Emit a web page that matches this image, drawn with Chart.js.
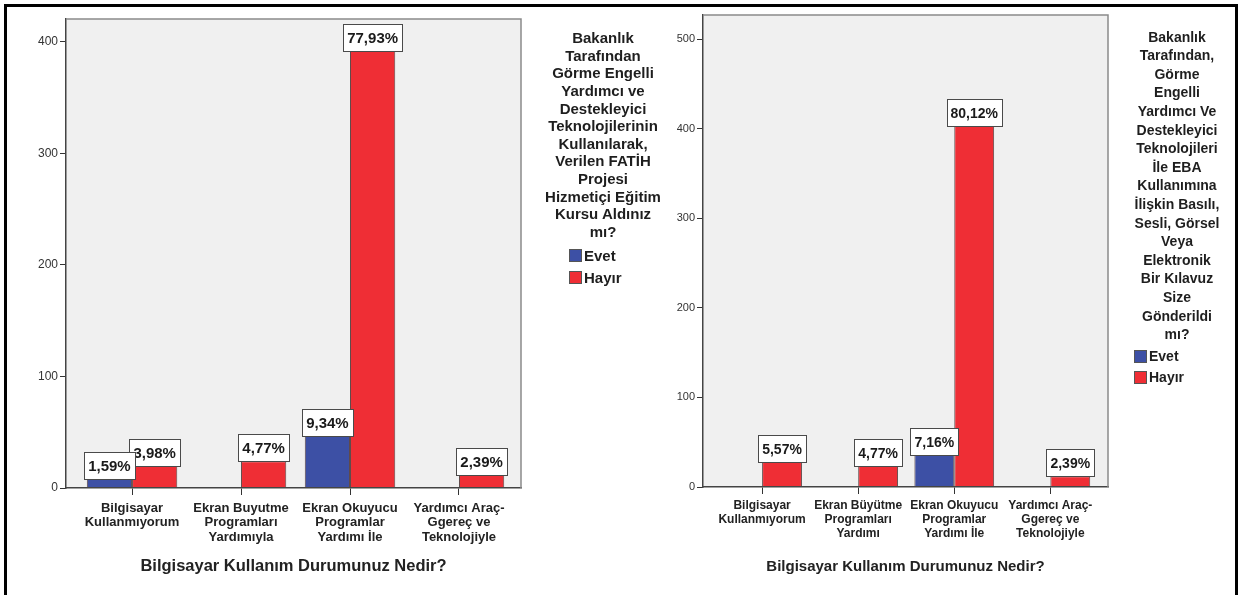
<!DOCTYPE html>
<html>
<head>
<meta charset="utf-8">
<script src="https://cdn.jsdelivr.net/npm/chart.js@4.4.1/dist/chart.umd.min.js"></script>
<style>
  body { margin: 0; background: #fff; }
  #page { position: relative; width: 1243px; height: 595px; overflow: hidden; font-family: "Liberation Sans", Arial, sans-serif; }
  #frame { position: absolute; left: 4px; top: 4px; width: 1234px; height: 610px; border: 3px solid #000; box-sizing: border-box; }
  canvas { position: absolute; top: 0; }
  .ltitle { position: absolute; text-align: center; color: #1e1e1e; font-weight: bold; }
  .litems { position: absolute; color: #1e1e1e; font-weight: bold; }
  .litems div { display: flex; align-items: center; }
  .litems span.sw { display: inline-block; width: 13px; height: 13px; border: 1px solid #555; box-sizing: border-box; margin-right: 2px; }
</style>
</head>
<body>
<div id="page">
  <div id="frame"></div>
  <canvas id="leftChart" width="650" height="595" style="left:0"></canvas>
  <canvas id="rightChart" width="593" height="595" style="left:650px"></canvas>
  <div id="leftLegend"></div>
  <div id="rightLegend"></div>
</div>
<script>
// values (counts, N = 503 per chart)
const seriesNames = ['Evet', 'Hayır'];
const seriesColors = ['#3d50a5', '#ef2e35'];

const leftCategories = [
  ['Bilgisayar', 'Kullanmıyorum'],
  ['Ekran Buyutme', 'Programları', 'Yardımıyla'],
  ['Ekran Okuyucu', 'Programlar', 'Yardımı İle'],
  ['Yardımcı Araç-', 'Ggereç ve', 'Teknolojiyle']
];
const leftEvet = [8, null, 47, null];
const leftHayir = [20, 24, 392, 12];
const leftYTicks = [0, 100, 200, 300, 400];

const rightCategories = [
  ['Bilgisayar', 'Kullanmıyorum'],
  ['Ekran Büyütme', 'Programları', 'Yardımı'],
  ['Ekran Okuyucu', 'Programlar', 'Yardımı İle'],
  ['Yardımcı Araç-', 'Ggereç ve', 'Teknolojiyle']
];
const rightEvet = [null, null, 36, null];
const rightHayir = [28, 24, 403, 12];
const rightYTicks = [0, 100, 200, 300, 400, 500];

const xTitle = 'Bilgisayar Kullanım Durumunuz Nedir?';

const leftLegendTitle = ['Bakanlık', 'Tarafından', 'Görme Engelli', 'Yardımcı ve', 'Destekleyici',
  'Teknolojilerinin', 'Kullanılarak,', 'Verilen FATİH', 'Projesi', 'Hizmetiçi Eğitim', 'Kursu Aldınız', 'mı?'];
const rightLegendTitle = ['Bakanlık', 'Tarafından,', 'Görme', 'Engelli', 'Yardımcı Ve', 'Destekleyici',
  'Teknolojileri', 'İle EBA', 'Kullanımına', 'İlişkin Basılı,', 'Sesli, Görsel', 'Veya', 'Elektronik',
  'Bir Kılavuz', 'Size', 'Gönderildi', 'mı?'];

const FONT = '"Liberation Sans", Arial, sans-serif';

// grey plot background + light top/right frame
const plotFrame = {
  id: 'plotFrame',
  beforeDraw(chart) {
    const a = chart.chartArea, ctx = chart.ctx;
    ctx.save();
    ctx.fillStyle = '#f0f0f0';
    ctx.fillRect(a.left, a.top, a.right - a.left, a.bottom - a.top);
    ctx.restore();
  },
  afterDraw(chart) {
    const a = chart.chartArea, ctx = chart.ctx;
    ctx.save();
    ctx.strokeStyle = '#8a8a8a';
    ctx.lineWidth = 1.5;
    ctx.beginPath();
    ctx.moveTo(a.left, a.top);
    ctx.lineTo(a.right, a.top);
    ctx.lineTo(a.right, a.bottom);
    ctx.stroke();
    ctx.restore();
  }
};

// white boxed percent labels on top of each bar
const boxLabels = {
  id: 'boxLabels',
  afterDatasetsDraw(chart, args, opts) {
    const ctx = chart.ctx;
    let total = 0;
    chart.data.datasets.forEach(ds => ds.data.forEach(p => { total += p.y || 0; }));
    ctx.save();
    ctx.font = 'bold ' + opts.size + 'px ' + FONT;
    ctx.textAlign = 'center';
    ctx.textBaseline = 'middle';
    for (let d = chart.data.datasets.length - 1; d >= 0; d--) {
      const meta = chart.getDatasetMeta(d);
      meta.data.forEach((bar, i) => {
        const v = chart.data.datasets[d].data[i].y;
        if (v == null) return;
        const txt = (v / total * 100).toFixed(2).replace('.', ',') + '%';
        const w = Math.round(ctx.measureText(txt).width + 8), h = opts.height;
        const x = Math.round(bar.x - w / 2) + 0.5, y = Math.round(bar.y - h) + 0.5;
        ctx.fillStyle = '#fff';
        ctx.fillRect(x, y, w, h);
        ctx.strokeStyle = '#4a4a4a';
        ctx.lineWidth = 1;
        ctx.strokeRect(x, y, w, h);
        ctx.fillStyle = '#1a1a1a';
        ctx.fillText(txt, bar.x, y + h / 2 + 1);
      });
    }
    ctx.restore();
  }
};

function toPoints(arr) {
  return arr.map((v, i) => ({ x: i, y: v }));
}

function makeChart(id, cats, evet, hayir, o) {
  const ctx = document.getElementById(id).getContext('2d');
  return new Chart(ctx, {
    type: 'bar',
    data: {
      datasets: [evet, hayir].map((d, k) => ({
        label: seriesNames[k],
        data: toPoints(d),
        backgroundColor: seriesColors[k],
        borderColor: 'rgba(50,20,20,0.75)',
        borderWidth: 1,
        barPercentage: 1,
        categoryPercentage: 0.83
      }))
    },
    options: {
      responsive: false,
      animation: false,
      devicePixelRatio: 1,
      layout: { padding: o.padding },
      plugins: {
        legend: { display: false },
        tooltip: { enabled: false },
        boxLabels: { size: o.labelSize, height: 27 }
      },
      scales: {
        x: {
          type: 'linear',
          min: o.xMin,
          max: o.xMax,
          offset: false,
          bounds: 'data',
          afterBuildTicks: s => { s.ticks = cats.map((c, i) => ({ value: i })); },
          afterFit: s => { s.height = o.xHeight; },
          ticks: {
            autoSkip: false, maxRotation: 0, minRotation: 0, padding: o.tickPad,
            color: '#222', font: { family: FONT, size: o.tickSize, weight: 'bold', lineHeight: o.tickLH },
            callback: v => cats[v]
          },
          grid: { offset: false, drawOnChartArea: false, drawTicks: true, tickLength: 7, tickColor: '#333', tickWidth: 1 },
          border: { color: '#444', width: 1.5, z: 1 },
          title: { display: true, text: xTitle, color: '#222', padding: 0,
                   font: { family: FONT, size: o.titleSize, weight: 'bold', lineHeight: 1.2 } }
        },
        y: {
          min: 0,
          max: o.yMax,
          afterBuildTicks: s => { s.ticks = o.yTicks.map(v => ({ value: v })); },
          afterFit: s => { s.width = o.yWidth; },
          ticks: { padding: 2, color: '#333', font: { family: FONT, size: o.ySize } },
          grid: { drawOnChartArea: false, drawTicks: true, tickLength: 6, tickColor: '#333' },
          border: { color: '#444', width: 1.5, z: 1 }
        }
      }
    },
    plugins: [plotFrame, boxLabels]
  });
}

makeChart('leftChart', leftCategories, leftEvet, leftHayir, {
  yMax: 420.5, yTicks: leftYTicks, xMin: -0.606, xMax: 3.569, yWidth: 58, xHeight: 88,
  padding: { left: 8, top: 19, right: 129, bottom: 19 }, labelSize: 15,
  tickSize: 13, tickLH: 1.12, tickPad: 6, titleSize: 16.5, ySize: 12
});
makeChart('rightChart', rightCategories, rightEvet, rightHayir, {
  yMax: 527, yTicks: rightYTicks, xMin: -0.615, xMax: 3.60, yWidth: 47, xHeight: 89,
  padding: { left: 6, top: 15, right: 135, bottom: 19 }, labelSize: 14,
  tickSize: 12, tickLH: 1.17, tickPad: 5, titleSize: 15, ySize: 11
});

// legend blocks (title lines + swatches) as html text
function makeLegend(el, lines, o) {
  const t = document.createElement('div');
  t.className = 'ltitle';
  t.style.cssText = 'left:' + (o.cx - o.w / 2) + 'px;width:' + o.w + 'px;top:' + (o.top - o.lh / 2) +
    'px;font-size:' + o.size + 'px;line-height:' + o.lh + 'px;';
  t.innerHTML = lines.join('<br>');
  el.appendChild(t);
  const items = document.createElement('div');
  items.className = 'litems';
  items.style.cssText = 'left:' + o.itemX + 'px;top:' + (o.itemTop - o.itemH / 2) + 'px;font-size:' + o.size + 'px;';
  seriesNames.forEach((n, k) => {
    const row = document.createElement('div');
    row.style.height = o.itemH + 'px';
    row.innerHTML = '<span class="sw" style="background:' + seriesColors[k] + '"></span>' + n;
    items.appendChild(row);
  });
  el.appendChild(items);
}

makeLegend(document.getElementById('leftLegend'), leftLegendTitle,
  { cx: 603, w: 160, top: 38, lh: 17.6, size: 15, itemX: 569, itemTop: 255, itemH: 22 });
makeLegend(document.getElementById('rightLegend'), rightLegendTitle,
  { cx: 1177, w: 120, top: 37, lh: 18.6, size: 14, itemX: 1134, itemTop: 356, itemH: 21 });
</script>
</body>
</html>
